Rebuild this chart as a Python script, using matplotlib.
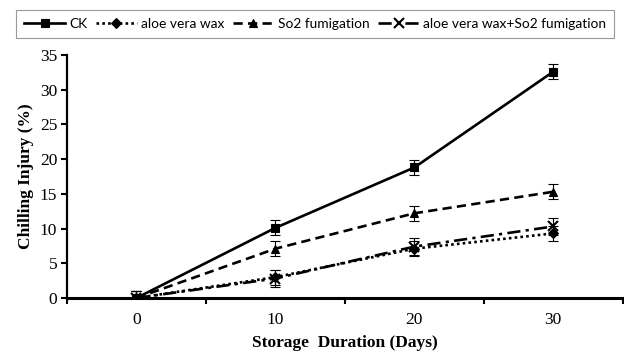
import matplotlib
matplotlib.use("Agg")
import matplotlib.pyplot as plt
from matplotlib.ticker import FixedLocator, NullFormatter, FixedFormatter

days = [0, 10, 20, 30]
ck = [0, 10.1, 18.8, 32.6]
ck_err = [1.0, 1.1, 1.1, 1.1]
aloe = [0, 3.0, 7.1, 9.3]
aloe_err = [1.0, 1.1, 1.1, 1.1]
so2 = [0, 7.1, 12.2, 15.3]
so2_err = [1.0, 1.1, 1.1, 1.1]
combo = [0, 2.8, 7.4, 10.3]
combo_err = [1.0, 1.2, 1.2, 1.2]
labels = ["CK", "aloe vera wax", "So2 fumigation", "aloe vera wax+So2 fumigation"]

fig = plt.figure(figsize=(6.24, 3.56), dpi=100)
ax = fig.add_axes([0.1074, 0.163, 0.8906, 0.6825])

series = [
    (ck, ck_err, '-', 's', 5.5),
    (aloe, aloe_err, (0, (1, 1.2)), 'D', 5),
    (so2, so2_err, (0, (3.5, 2)), '^', 6),
    (combo, combo_err, (0, (5, 2, 1.2, 2)), 'x', 7),
]
handles = []
for (vals, err, ls, mk, ms), lab in zip(series, labels):
    ax.errorbar(days, vals, yerr=err, fmt='none', ecolor='black', elinewidth=0.8,
                capsize=3.5, capthick=0.8, zorder=2)
    h, = ax.plot(days, vals, linestyle=ls, color='black', lw=1.9, marker=mk,
                 markersize=ms, markeredgewidth=1.5 if mk == 'x' else 0.8,
                 markerfacecolor='black', markeredgecolor='black', label=lab, zorder=3)
    handles.append(h)

ax.set_xlim(-5, 35)
ax.set_ylim(0, 35)
ax.xaxis.set_major_locator(FixedLocator([-5, 5, 15, 25, 35]))
ax.xaxis.set_major_formatter(NullFormatter())
ax.xaxis.set_minor_locator(FixedLocator(days))
ax.xaxis.set_minor_formatter(FixedFormatter([str(d) for d in days]))
ax.tick_params(axis='x', which='minor', length=0, pad=10)
ax.tick_params(axis='x', which='major', length=4, width=1.5, direction='out')
ax.set_yticks([0, 5, 10, 15, 20, 25, 30, 35])
ax.tick_params(axis='y', which='major', length=4, width=1.5, direction='out', pad=3)
for lbl in ax.get_xticklabels(minor=True) + ax.get_yticklabels():
    lbl.set_fontfamily('Liberation Serif')
    lbl.set_fontsize(12.5)

for s in ['top', 'right']:
    ax.spines[s].set_visible(False)
ax.spines['left'].set_linewidth(1.6)
ax.spines['bottom'].set_linewidth(2.2)

ax.set_xlabel('Storage  Duration (Days)', fontfamily='Liberation Serif', fontweight='bold',
              fontsize=12.5, labelpad=5)
ax.set_ylabel('Chilling Injury (%)', fontfamily='Liberation Serif', fontweight='bold',
              fontsize=12.5, labelpad=4)

leg = fig.legend(handles=handles, labels=labels, loc='upper center', ncol=4,
                 bbox_to_anchor=(0.505, 0.99), frameon=True, fancybox=False,
                 edgecolor='#808080', handlelength=3.0, handletextpad=0.3,
                 columnspacing=0.6, borderpad=0.55,
                 prop={'family': 'Lato', 'size': 9.9})
leg.get_frame().set_linewidth(0.8)

fig.savefig('out.png', dpi=100)
